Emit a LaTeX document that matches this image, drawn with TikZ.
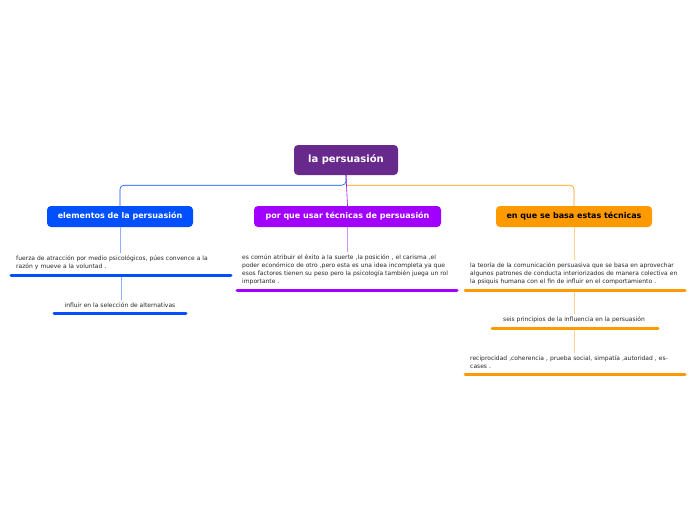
\documentclass[tikz,border=0pt]{standalone}
\usepackage{fontspec}
\setmainfont{DejaVu Sans}
\definecolor{rootc}{HTML}{68298C}
\definecolor{bluec}{HTML}{0050FF}
\definecolor{purc}{HTML}{A100FF}
\definecolor{orac}{HTML}{FF9900}
\tikzset{
  topic/.style={rounded corners=4pt,minimum height=21pt,font=\fontsize{8}{9}\selectfont\bfseries,text=white},
  leaf/.style={inner xsep=5pt,inner ysep=3pt,align=left,font=\fontsize{6}{8}\selectfont,text=black!85},
  bar/.style={line width=3pt,line cap=round},
  link/.style={line width=0.6pt}
}
\begin{document}
\begin{tikzpicture}[x=1pt,y=-1pt]
  \useasboundingbox (0,0) rectangle (696,520);
  \node[topic,fill=rootc,minimum width=104pt,minimum height=30pt,font=\fontsize{10}{12}\selectfont\bfseries] (root) at (346,160) {la persuasión};
  \node[topic,fill=bluec,minimum width=146pt] (elem) at (120,216.5) {elementos de la persuasión};
  \node[topic,fill=purc,minimum width=187pt] (porq) at (347.5,216.5) {por que usar técnicas de persuasión};
  \node[topic,fill=orac,minimum width=156pt,text=black] (basa) at (574,216.5) {en que se basa estas técnicas};
  % connectors
  \draw[link,bluec,rounded corners=4pt] (root.south) -- ++(0,10) -| (elem.north);
  \draw[link,orac,rounded corners=4pt] (root.south) ++(0,10) -| (basa.north);
  \draw[link,purc] (root.south) -- (porq.north);
  % leaves
  \node[leaf,text width=210pt,anchor=south west] (fuer) at (11,273) {fuerza de atracción por medio psicológicos, púes convence a la razón y mueve a la voluntad .};
  \node[leaf,anchor=south] (infl) at (120,311) {influir en la selección de alternativas};
  \node[leaf,text width=210pt,anchor=south west] (comu) at (237,288) {es común atribuir el éxito a la suerte ,la posición , el carisma ,el poder económico de otro ,pero esta es una idea incompleta ya que esos factores tienen su peso pero la psicología también juega un rol importante .};
  \node[leaf,text width=210pt,anchor=south west] (teor) at (465,288) {la teoría de la comunicación persuasiva que se basa en aprovechar algunos patrones de conducta interiorizados de manera colectiva en la psiquis humana con el fin de influir en el comportamiento .};
  \node[leaf,anchor=south] (seis) at (574,326) {seis principios de la influencia en la persuasión};
  \node[leaf,text width=210pt,anchor=south west] (reci) at (465,372) {reciprocidad ,coherencia , prueba social, simpatía ,autoridad , escases .};
  % bars
  \draw[bar,bluec] (11,275) -- (231,275);
  \draw[bar,bluec] (54,313) -- (186,313);
  \draw[bar,purc] (237,290) -- (457,290);
  \draw[bar,orac] (465,290) -- (685,290);
  \draw[bar,orac] (492,328) -- (658,328);
  \draw[bar,orac] (465,374) -- (685,374);
  % thin links
  \draw[link,bluec!45] (elem.south) -- (elem.south |- fuer.north);
  \draw[link,bluec!45] (121,277) -- (121,0 |- infl.north);
  \draw[link,purc!45] (porq.south) -- (porq.south |- comu.north);
  \draw[link,orac!45] (basa.south) -- (basa.south |- teor.north);
  \draw[link,orac!45] (574,292) -- (seis.north);
  \draw[link,orac!45] (574,330) -- (basa.south |- reci.north);
\end{tikzpicture}
\end{document}
